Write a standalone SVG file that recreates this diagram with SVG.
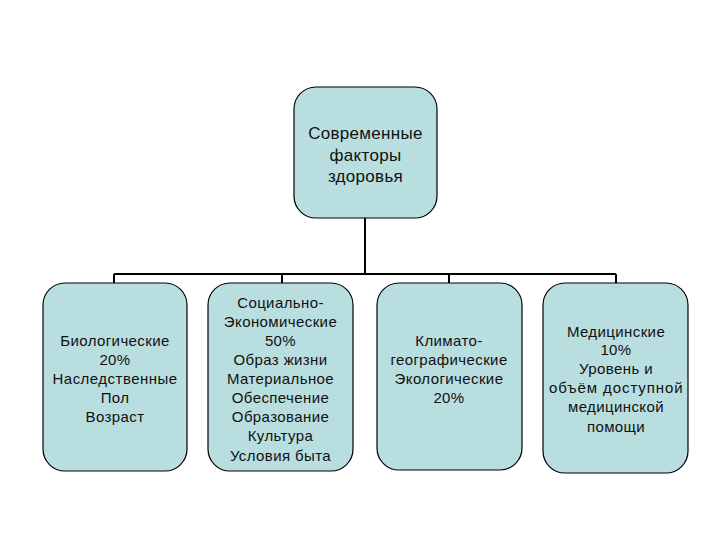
<svg xmlns="http://www.w3.org/2000/svg" width="720" height="540" viewBox="0 0 720 540">
<style>
.box{fill:#B9DEE0;stroke:#000;stroke-width:1.2}
.t{font-family:"Liberation Sans",Arial,sans-serif;font-size:15px;fill:#111;text-anchor:middle;letter-spacing:0.4px}
.tt{font-family:"Liberation Sans",Arial,sans-serif;font-size:17px;fill:#111;text-anchor:middle;letter-spacing:0.3px}
.c{fill:none;stroke:#000;stroke-width:2}
</style>
<rect width="720" height="540" fill="#fff"/>
<g id="connectors">
<path class="c" d="M365 218 V274 M114 274 H616 M114 274 V283 M282 274 V283 M449 274 V283 M616 274 V283"/>
</g>
<g id="root">
<rect class="box" x="294" y="87" width="143" height="131" rx="22"/>
<text class="tt"><tspan x="365.5" y="139">Современные</tspan><tspan x="365.5" y="160.5">факторы</tspan><tspan x="365.5" y="182">здоровья</tspan></text>
</g>
<g id="bio">
<rect class="box" x="43" y="283" width="144" height="188" rx="22"/>
<text class="t"><tspan x="115" y="346">Биологические</tspan><tspan x="115" y="365">20%</tspan><tspan x="115" y="384" textLength="125">Наследственные</tspan><tspan x="115" y="403">Пол</tspan><tspan x="115" y="422">Возраст</tspan></text>
</g>
<g id="social">
<rect class="box" x="208" y="283" width="145" height="188" rx="22"/>
<text class="t"><tspan x="280.5" y="308">Социально-</tspan><tspan x="280.5" y="327">Экономические</tspan><tspan x="280.5" y="346">50%</tspan><tspan x="280.5" y="365">Образ жизни</tspan><tspan x="280.5" y="384">Материальное</tspan><tspan x="280.5" y="403">Обеспечение</tspan><tspan x="280.5" y="422">Образование</tspan><tspan x="280.5" y="441">Культура</tspan><tspan x="280.5" y="461">Условия быта</tspan></text>
</g>
<g id="climate">
<rect class="box" x="377" y="283" width="145" height="187" rx="22"/>
<text class="t"><tspan x="449" y="346">Климато-</tspan><tspan x="449" y="365">географические</tspan><tspan x="449" y="384">Экологические</tspan><tspan x="449" y="403">20%</tspan></text>
</g>
<g id="medical">
<rect class="box" x="543" y="283" width="145" height="190" rx="22"/>
<text class="t"><tspan x="616" y="337">Медицинские</tspan><tspan x="616" y="355">10%</tspan><tspan x="616" y="374">Уровень и</tspan><tspan x="616" y="393" textLength="134">объём доступной</tspan><tspan x="616" y="412">медицинской</tspan><tspan x="616" y="432">помощи</tspan></text>
</g>
</svg>
